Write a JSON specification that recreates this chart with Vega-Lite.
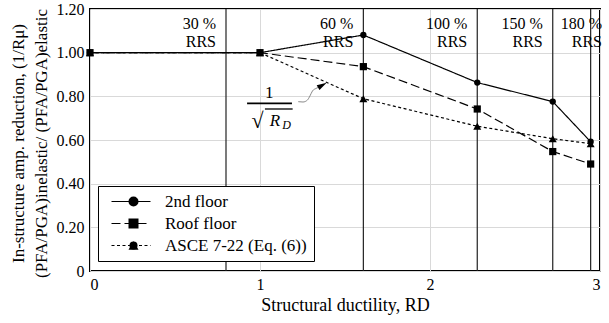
{
  "$schema": "https://vega.github.io/schema/vega-lite/v6.json",
  "width": 510,
  "height": 262,
  "autosize": {"type": "none"},
  "padding": {"left": 90, "top": 9, "right": 9, "bottom": 52},
  "config": {
    "font": "Liberation Serif, Times New Roman, DejaVu Serif, serif",
    "view": {"stroke": "black", "strokeWidth": 2},
    "axis": {
      "labelFont": "Liberation Serif, Times New Roman, DejaVu Serif, serif",
      "titleFont": "Liberation Serif, Times New Roman, DejaVu Serif, serif",
      "labelColor": "black",
      "titleColor": "black",
      "labelFontSize": 16,
      "titleFontSize": 18,
      "titleFontWeight": "normal",
      "gridColor": "#d9d9d9",
      "gridWidth": 1,
      "ticks": false,
      "domain": false
    },
    "legend": {
      "labelFont": "Liberation Serif, Times New Roman, DejaVu Serif, serif"
    },
    "text": {"font": "Liberation Serif, Times New Roman, DejaVu Serif, serif", "color": "black"}
  },
  "datasets": {
    "response": [
      {"series": "2nd floor", "rd": 0, "ratio": 1.0},
      {"series": "2nd floor", "rd": 1, "ratio": 1.0},
      {"series": "2nd floor", "rd": 1.608, "ratio": 1.081},
      {"series": "2nd floor", "rd": 2.278, "ratio": 0.863},
      {"series": "2nd floor", "rd": 2.722, "ratio": 0.776},
      {"series": "2nd floor", "rd": 2.945, "ratio": 0.592},
      {"series": "ASCE 7-22 (Eq. (6))", "rd": 0, "ratio": 1.0},
      {"series": "ASCE 7-22 (Eq. (6))", "rd": 1, "ratio": 1.0},
      {"series": "ASCE 7-22 (Eq. (6))", "rd": 1.608, "ratio": 0.789},
      {"series": "ASCE 7-22 (Eq. (6))", "rd": 2.278, "ratio": 0.663},
      {"series": "ASCE 7-22 (Eq. (6))", "rd": 2.722, "ratio": 0.606},
      {"series": "ASCE 7-22 (Eq. (6))", "rd": 2.945, "ratio": 0.583},
      {"series": "Roof floor", "rd": 0, "ratio": 1.0},
      {"series": "Roof floor", "rd": 1, "ratio": 1.0},
      {"series": "Roof floor", "rd": 1.608, "ratio": 0.936},
      {"series": "Roof floor", "rd": 2.278, "ratio": 0.742},
      {"series": "Roof floor", "rd": 2.722, "ratio": 0.547},
      {"series": "Roof floor", "rd": 2.945, "ratio": 0.49}
    ],
    "rrs": [
      {"rd": 0.8, "label": "30 %\nRRS"},
      {"rd": 1.608, "label": "60 %\nRRS"},
      {"rd": 2.278, "label": "100 %\nRRS"},
      {"rd": 2.722, "label": "150 %\nRRS"},
      {"rd": 2.945, "label": "180 %\nRRS"}
    ],
    "leader": [
      {"rd": 1.225, "ratio": 0.7755},
      {"rd": 1.253, "ratio": 0.774},
      {"rd": 1.279, "ratio": 0.783},
      {"rd": 1.294, "ratio": 0.802},
      {"rd": 1.309, "ratio": 0.825},
      {"rd": 1.329, "ratio": 0.836},
      {"rd": 1.345, "ratio": 0.842}
    ],
    "note": [
      {"part": "one", "glyph": "1"},
      {"part": "root", "glyph": "√"},
      {"part": "r", "glyph": "R"},
      {"part": "d", "glyph": "D"}
    ]
  },
  "layer": [
    {
      "data": {"name": "rrs"},
      "mark": {"type": "rule", "color": "#222222", "strokeWidth": 1.2},
      "encoding": {
        "x": {"field": "rd", "type": "quantitative", "title": "Structural ductility, RD"}
      }
    },
    {
      "data": {"name": "response"},
      "mark": {"type": "line", "color": "black", "strokeWidth": 1.2},
      "encoding": {
        "x": {
          "field": "rd",
          "type": "quantitative",
          "title": "Structural ductility, RD",
          "scale": {"domain": [0, 3], "nice": false, "zero": false},
          "axis": {
            "values": [0, 1, 2, 3],
            "format": "d",
            "labelPadding": 5,
            "titlePadding": 4,
            "grid": true
          }
        },
        "y": {
          "field": "ratio",
          "type": "quantitative",
          "title": ["In-structure amp. reduction, (1/Rμ)", "(PFA/PGA)inelastic/ (PFA/PGA)elastic"],
          "scale": {"domain": [0, 1.2], "nice": false},
          "axis": {
            "values": [0, 0.2, 0.4, 0.6, 0.8, 1.0, 1.2],
            "labelExpr": "datum.value == 0 ? '0' : format(datum.value, '.2f')",
            "titleAngle": -90,
            "titleX": -72,
            "titleY": 134,
            "titleAlign": "center",
            "titleBaseline": "middle",
            "titleLineHeight": 23,
            "titleFontSize": 17,
            "labelPadding": 6,
            "grid": true
          }
        },
        "strokeDash": {
          "field": "series",
          "type": "nominal",
          "scale": {
            "domain": ["2nd floor", "Roof floor", "ASCE 7-22 (Eq. (6))"],
            "range": [[1, 0], [9, 4], [3, 2.5]]
          },
          "legend": {
            "title": null,
            "orient": "none",
            "legendX": 8,
            "legendY": 177,
            "zindex": 1,
            "padding": 7,
            "strokeColor": "black",
            "fillColor": "white",
            "symbolType": "M-0.4,0H7.4",
            "symbolSize": 100,
            "symbolStrokeWidth": 1.2,
            "symbolStrokeColor": "black",
            "symbolFillColor": "transparent",
            "labelOffset": 43,
            "labelFontSize": 17,
            "labelColor": "black",
            "labelLimit": 0,
            "rowPadding": 4
          }
        }
      }
    },
    {
      "data": {"name": "response"},
      "mark": {"type": "point", "filled": true, "color": "black", "opacity": 1, "strokeWidth": 0},
      "encoding": {
        "x": {"field": "rd", "type": "quantitative", "title": "Structural ductility, RD"},
        "y": {"field": "ratio", "type": "quantitative", "title": ["In-structure amp. reduction, (1/Rμ)", "(PFA/PGA)inelastic/ (PFA/PGA)elastic"]},
        "shape": {
          "field": "series",
          "type": "nominal",
          "sort": ["2nd floor", "Roof floor", "ASCE 7-22 (Eq. (6))"],
          "scale": {"range": ["circle", "square", "triangle-up"]},
          "legend": {
            "title": null,
            "orient": "none",
            "legendX": 28,
            "legendY": 177,
            "zindex": 2,
            "padding": 7,
            "symbolFillColor": "black",
            "symbolStrokeWidth": 0,
            "labelFontSize": 17,
            "labelColor": "transparent",
            "labelOpacity": 0,
            "labelLimit": 0,
            "rowPadding": 4
          }
        },
        "size": {
          "field": "series",
          "type": "nominal",
          "sort": ["2nd floor", "Roof floor", "ASCE 7-22 (Eq. (6))"],
          "scale": {"range": [40, 64, 50]},
          "legend": {
            "title": null,
            "orient": "none",
            "legendX": 28,
            "legendY": 177,
            "zindex": 2,
            "padding": 7,
            "symbolFillColor": "black",
            "symbolStrokeWidth": 0,
            "labelFontSize": 17,
            "labelColor": "transparent",
            "labelOpacity": 0,
            "labelLimit": 0,
            "rowPadding": 4
          }
        }
      }
    },
    {
      "data": {"name": "rrs"},
      "transform": [{"filter": "datum.rd < 2.9"}],
      "mark": {"type": "text", "align": "right", "baseline": "middle", "dx": -10, "fontSize": 16, "lineBreak": "\n", "lineHeight": 17.5},
      "encoding": {
        "x": {"field": "rd", "type": "quantitative", "title": "Structural ductility, RD"},
        "y": {"datum": 1.13, "type": "quantitative"},
        "text": {"field": "label", "type": "nominal"}
      }
    },
    {
      "data": {"name": "rrs"},
      "transform": [{"filter": "datum.rd > 2.9"}],
      "mark": {"type": "text", "align": "right", "baseline": "middle", "dx": 2, "fontSize": 16, "lineBreak": "\n", "lineHeight": 17.5},
      "encoding": {
        "x": {"datum": 3, "type": "quantitative"},
        "y": {"datum": 1.13, "type": "quantitative"},
        "text": {"field": "label", "type": "nominal"}
      }
    },
    {
      "data": {"name": "leader"},
      "mark": {"type": "line", "color": "#8a8a8a", "strokeWidth": 1, "interpolate": "monotone"},
      "encoding": {
        "x": {"field": "rd", "type": "quantitative", "title": "Structural ductility, RD"},
        "y": {"field": "ratio", "type": "quantitative", "title": ["In-structure amp. reduction, (1/Rμ)", "(PFA/PGA)inelastic/ (PFA/PGA)elastic"]}
      }
    },
    {
      "data": {"name": "note"},
      "transform": [{"filter": "datum.part === 'one'"}],
      "mark": {"type": "point", "shape": "M0,-1L0.55,1L-0.55,1Z", "angle": 59.5, "size": 100, "filled": true, "color": "black", "opacity": 1, "strokeWidth": 0},
      "encoding": {
        "x": {"datum": 1.367, "type": "quantitative"},
        "y": {"datum": 0.851, "type": "quantitative"}
      }
    },
    {
      "data": {"name": "note"},
      "transform": [{"filter": "datum.part === 'one'"}],
      "mark": {"type": "text", "fontSize": 17, "align": "center", "baseline": "middle"},
      "encoding": {
        "x": {"datum": 1.055, "type": "quantitative"},
        "y": {"datum": 0.817, "type": "quantitative"},
        "text": {"field": "glyph", "type": "nominal"}
      }
    },
    {
      "data": {"name": "note"},
      "transform": [{"filter": "datum.part === 'one'"}],
      "mark": {"type": "rule", "color": "black", "strokeWidth": 1.8},
      "encoding": {
        "x": {"datum": 0.924, "type": "quantitative"},
        "x2": {"datum": 1.188},
        "y": {"datum": 0.768, "type": "quantitative"}
      }
    },
    {
      "data": {"name": "note"},
      "transform": [{"filter": "datum.part === 'root'"}],
      "mark": {"type": "text", "fontSize": 22, "align": "center", "baseline": "middle"},
      "encoding": {
        "x": {"datum": 0.985, "type": "quantitative"},
        "y": {"datum": 0.687, "type": "quantitative"},
        "text": {"field": "glyph", "type": "nominal"}
      }
    },
    {
      "data": {"name": "note"},
      "transform": [{"filter": "datum.part === 'root'"}],
      "mark": {"type": "rule", "color": "black", "strokeWidth": 1.3},
      "encoding": {
        "x": {"datum": 1.029, "type": "quantitative"},
        "x2": {"datum": 1.192},
        "y": {"datum": 0.742, "type": "quantitative"}
      }
    },
    {
      "data": {"name": "note"},
      "transform": [{"filter": "datum.part === 'r'"}],
      "mark": {"type": "text", "fontSize": 17, "fontStyle": "italic", "align": "center", "baseline": "middle"},
      "encoding": {
        "x": {"datum": 1.088, "type": "quantitative"},
        "y": {"datum": 0.688, "type": "quantitative"},
        "text": {"field": "glyph", "type": "nominal"}
      }
    },
    {
      "data": {"name": "note"},
      "transform": [{"filter": "datum.part === 'd'"}],
      "mark": {"type": "text", "fontSize": 12, "fontStyle": "italic", "align": "center", "baseline": "middle"},
      "encoding": {
        "x": {"datum": 1.157, "type": "quantitative"},
        "y": {"datum": 0.667, "type": "quantitative"},
        "text": {"field": "glyph", "type": "nominal"}
      }
    }
  ]
}
